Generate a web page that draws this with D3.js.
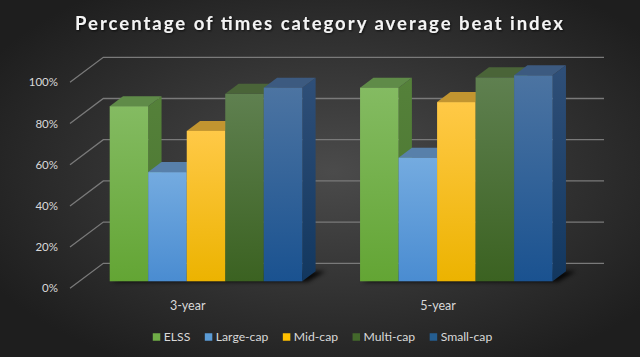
<!DOCTYPE html>
<html><head><meta charset="utf-8">
<script src="https://cdn.jsdelivr.net/npm/d3@7"></script>
<style>html,body{margin:0;padding:0;background:#2a2a2a;}svg{display:block;}</style>
</head><body>
<svg id="c" width="640" height="357"></svg>
<script>
const categories = ["3-year", "5-year"];
const seriesNames = ["ELSS", "Large-cap", "Mid-cap", "Multi-cap", "Small-cap"];
const values3yr = [0.85, 0.53, 0.73, 0.91, 0.94];
const values5yr = [0.94, 0.60, 0.87, 0.99, 1.00];
const tickValues = [0, 0.2, 0.4, 0.6, 0.8, 1.0];
const tickLabels = ["0%", "20%", "40%", "60%", "80%", "100%"];
const titleText = "Percentage of times category average beat index";

const colors = [
  {front:["#84bb62","#63a534"], top:"#5f8b48", side:["#55813a","#4a7530"], leg:"#70ad47"},
  {front:["#74abe0","#4a8cd1"], top:"#5880aa", side:["#3f6f9f","#356192"], leg:"#5b9bd5"},
  {front:["#ffc947","#ecb300"], top:"#c29530", side:["#c39225","#b58600"], leg:"#ffc000"},
  {front:["#5f8050","#3b6221"], top:"#4a6438", side:["#3c5a2c","#30511a"], leg:"#43682b"},
  {front:["#4c74a2","#1a5290"], top:"#3c5a80", side:["#2f4f78","#12375f"], leg:"#255e91"}
];

const svg = d3.select("#c");
const W = 640, H = 357;
const defs = svg.append("defs");

const bg = defs.append("radialGradient").attr("id","bg").attr("cx","52%").attr("cy","48%").attr("r","62%");
bg.append("stop").attr("offset","0%").attr("stop-color","#4b4b4b");
bg.append("stop").attr("offset","100%").attr("stop-color","#1e1e1e");
svg.append("rect").attr("width",W).attr("height",H).attr("fill","url(#bg)");

colors.forEach((c,i)=>{
  const g = defs.append("linearGradient").attr("id","f"+i).attr("x1",0).attr("y1",0).attr("x2",0).attr("y2",1);
  g.append("stop").attr("offset","0%").attr("stop-color",c.front[0]);
  g.append("stop").attr("offset","100%").attr("stop-color",c.front[1]);
  const s = defs.append("linearGradient").attr("id","s"+i).attr("x1",0).attr("y1",0).attr("x2",0).attr("y2",1);
  s.append("stop").attr("offset","0%").attr("stop-color",c.side[0]);
  s.append("stop").attr("offset","100%").attr("stop-color",c.side[1]);
});
const blur = defs.append("filter").attr("id","blur").attr("x","-20%").attr("y","-50%").attr("width","140%").attr("height","200%");
blur.append("feGaussianBlur").attr("stdDeviation",2.2);
const tsh = defs.append("filter").attr("id","tsh");
tsh.append("feDropShadow").attr("dx",1).attr("dy",1).attr("stdDeviation",0.8).attr("flood-color","#000").attr("flood-opacity",0.7);

const DX = 33.3, DY = -25;
const y = d3.scaleLinear().domain([0,1]).range([288.3, 82.3]);
const floorX = [71.5, 572.2];
const x0 = d3.scaleBand().domain(categories).range(floorX)
  .paddingInner(1.5/6.5).paddingOuter(0.75/6.5);
const x1 = d3.scaleBand().domain(seriesNames).range([0, x0.bandwidth()]);
const P = (x, v, d) => [x + d*DX, y(v) + d*DY];
const dFront = 0.28, dBack = 0.68;

const grid = svg.append("g").attr("stroke","#7a7a7a").attr("stroke-width",1.3).attr("fill","none");
tickValues.forEach(v=>{
  const a = P(70, v, 0), b = P(70, v, 1), c = P(570.7, v, 1);
  grid.append("path").attr("d", d3.line()([a,b,c]));
});

svg.append("g").selectAll("text").data(tickValues).join("text")
  .attr("x",58).attr("y",d=>y(d)).attr("dy","0.35em").attr("text-anchor","end")
  .attr("font-family","Lato, 'Open Sans', sans-serif").attr("font-size",11.5).attr("fill","#d9d9d9")
  .text((d,i)=>tickLabels[i]);

const data = categories.map((c,ci)=>({cat:c, vals:[values3yr, values5yr][ci]}));

data.forEach(g=>{
  const xs = x0(g.cat), xe = xs + x0.bandwidth();
  const pts = [P(xs+3, 0, dFront-0.02), P(xe+6, 0, dFront-0.02), P(xe+10, 0, dBack), P(xs+8, 0, dBack)];
  svg.append("path").attr("d", d3.line()(pts)+"Z").attr("fill","#000").attr("opacity",0.85).attr("filter","url(#blur)");
});

const bars = svg.append("g");
data.forEach(g=>{
  g.vals.forEach((v,i)=>{
    const xl = x0(g.cat) + x1(seriesNames[i]);
    const xr = xl + x1.bandwidth();
    bars.append("path").attr("fill",`url(#s${i})`)
      .attr("d", d3.line()([P(xr,0,dFront),P(xr,v,dFront),P(xr,v,dBack),P(xr,0,dBack)])+"Z");
    bars.append("path").attr("fill",colors[i].top)
      .attr("d", d3.line()([P(xl,v,dFront),P(xr,v,dFront),P(xr,v,dBack),P(xl,v,dBack)])+"Z");
    const f0 = P(xl,v,dFront), f1 = P(xr,0,dFront);
    bars.append("rect").attr("x",f0[0]).attr("y",f0[1]).attr("width",f1[0]-f0[0]).attr("height",f1[1]-f0[1])
      .attr("fill",`url(#f${i})`);
  });
});

svg.append("g").selectAll("text").data(categories).join("text")
  .attr("x",d=>x0(d)+x0.bandwidth()/2 - 9).attr("y",306).attr("dy","0.35em").attr("text-anchor","middle")
  .attr("font-family","Lato, 'Open Sans', sans-serif").attr("font-size",12.5).attr("fill","#d9d9d9")
  .text(d=>d);

svg.append("text").attr("x",319).attr("y",30).attr("text-anchor","middle")
  .attr("font-family","Lato, 'Open Sans', sans-serif").attr("font-weight","bold").attr("font-size",18.5)
  .attr("fill","#f4f4f4").attr("filter","url(#tsh)")
  .attr("textLength",488).attr("lengthAdjust","spacing")
  .text(titleText);

const leg = svg.append("g");
const items = leg.selectAll("g").data(seriesNames).join("g");
items.append("rect").attr("width",7.5).attr("height",7.5).attr("y",-3.75).attr("fill",(d,i)=>colors[i].leg);
items.append("text").attr("x",11).attr("dy","0.35em")
  .attr("font-family","Lato, 'Open Sans', sans-serif").attr("font-size",12.2).attr("fill","#d9d9d9").text(d=>d);
let cx = 0; const pos = [];
items.each(function(){ pos.push(cx); cx += 11 + this.querySelector("text").getComputedTextLength() + 14.5; });
const total = cx - 14.5;
items.attr("transform",(d,i)=>`translate(${322.5 - total/2 + pos[i]},337)`);
</script>
</body></html>
